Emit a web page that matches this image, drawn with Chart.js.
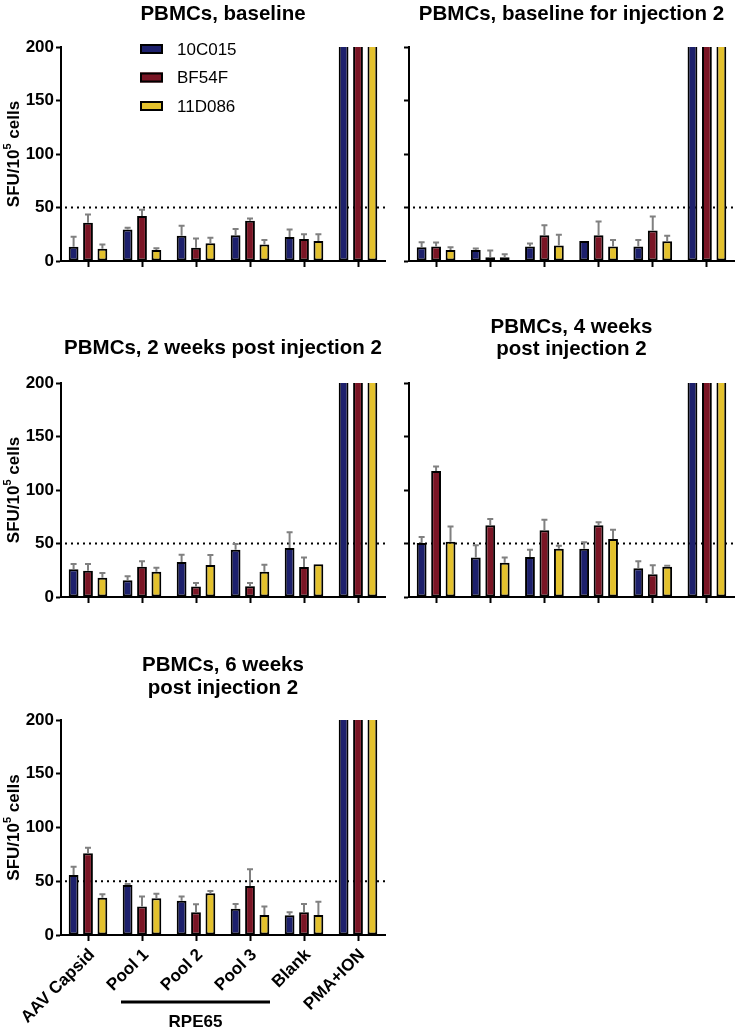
<!DOCTYPE html>
<html>
<head>
<meta charset="utf-8">
<script src="https://cdn.jsdelivr.net/npm/chart.js@4.4.0/dist/chart.umd.min.js"></script>
<style>
  html, body { margin: 0; padding: 0; background: #fff; }
  body { width: 736px; height: 1031px; position: relative; overflow: hidden; }
  canvas { position: absolute; }
</style>
</head>
<body>
<canvas id="g1" width="392" height="300" style="left:0;top:0"></canvas>
<canvas id="g2" width="344" height="300" style="left:392px;top:0"></canvas>
<canvas id="g3" width="392" height="320" style="left:0;top:300px"></canvas>
<canvas id="g4" width="344" height="320" style="left:392px;top:300px"></canvas>
<canvas id="g5" width="392" height="411" style="left:0;top:620px"></canvas>
<script>
// datos
var categorias = ['AAV Capsid', 'Pool 1', 'Pool 2', 'Pool 3', 'Blank', 'PMA+ION'];
var series = ['10C015', 'BF54F', '11D086'];
var colores = ['#1d206c', '#7a1525', '#e3c12d'];
var ticksY = [0, 50, 100, 150, 200];
var umbral = 50;
var grupo = 'RPE65';

// PBMCs, baseline
var base_10C015 = [13.4, 29.5, 23.6, 24.0, 22.4, 200];
var base_BF54F = [35.8, 42.0, 12.4, 37.6, 20.5, 200];
var base_11D086 = [11.5, 10.3, 16.5, 15.5, 18.7, 200];
var base_err_10C015 = [9.3, 1.5, 9.4, 6.0, 7.1, 0];
var base_err_BF54F = [7.7, 6.0, 8.6, 2.2, 4.4, 0];
var base_err_11D086 = [4.0, 1.5, 5.3, 4.1, 6.2, 0];

// PBMCs, baseline for injection 2
var base2_10C015 = [12.9, 10.3, 13.5, 18.8, 13.5, 200];
var base2_BF54F = [13.5, 3.4, 24.1, 24.1, 28.5, 200];
var base2_11D086 = [10.3, 3.4, 14.4, 13.5, 18.5, 200];
var base2_err_10C015 = [4.7, 1.3, 2.8, 0, 6.2, 0];
var base2_err_BF54F = [3.7, 6.3, 9.4, 12.9, 13.2, 0];
var base2_err_11D086 = [2.6, 2.9, 10.1, 6.2, 5.0, 0];

// PBMCs, 2 weeks post injection 2
var sem2_10C015 = [25.9, 15.6, 32.7, 44.2, 45.8, 200];
var sem2_BF54F = [24.6, 28.3, 9.7, 10.0, 28.0, 200];
var sem2_11D086 = [18.1, 23.7, 29.9, 23.7, 30.5, 200];
var sem2_err_10C015 = [4.9, 3.7, 6.9, 5.3, 14.6, 0];
var sem2_err_BF54F = [6.2, 5.0, 3.4, 3.1, 9.0, 0];
var sem2_err_11D086 = [4.3, 3.7, 9.4, 6.5, 0, 0];

// PBMCs, 4 weeks post injection 2
var sem4_10C015 = [50.5, 36.8, 37.4, 45.2, 26.8, 200];
var sem4_BF54F = [117.8, 67.0, 62.3, 67.0, 21.2, 200];
var sem4_11D086 = [51.7, 32.1, 45.2, 54.2, 28.3, 200];
var sem4_err_10C015 = [5.5, 11.5, 6.8, 5.9, 6.5, 0];
var sem4_err_BF54F = [4.2, 5.9, 10.0, 2.8, 8.4, 0];
var sem4_err_11D086 = [14.3, 4.7, 2.8, 8.7, 1.0, 0];

// PBMCs, 6 weeks post injection 2
var sem6_10C015 = [55.8, 46.5, 31.9, 24.5, 18.3, 200];
var sem6_BF54F = [76.0, 26.4, 21.1, 45.6, 21.1, 200];
var sem6_11D086 = [34.7, 34.1, 38.8, 18.6, 18.6, 200];
var sem6_err_10C015 = [7.8, 0.9, 3.8, 4.3, 2.8, 0];
var sem6_err_BF54F = [5.2, 9.3, 7.4, 15.5, 7.7, 0];
var sem6_err_11D086 = [3.1, 4.3, 2.1, 7.8, 12.4, 0];

var fuente = '"Liberation Sans", Arial, sans-serif';
Chart.defaults.font.family = fuente;
Chart.defaults.color = '#000';

function crear_panel(id, cfg) {
    var ctx = document.getElementById(id);
    var valores = [cfg.v1, cfg.v2, cfg.v3];
    var errores = [cfg.e1, cfg.e2, cfg.e3];

    var datasets = series.map(function (s, i) {
        return {
            label: s,
            data: valores[i],
            errores: errores[i],
            backgroundColor: colores[i],
            borderColor: '#000',
            borderSkipped: false,
            borderWidth: function (c) {
                return c.raw >= 200 ? {left: 2, right: 2, top: 0, bottom: 2} : 2;
            }
        };
    });

    var lineaUmbral = {
        id: 'lineaUmbral',
        beforeDatasetsDraw: function (chart) {
            var a = chart.chartArea, y = chart.scales.y.getPixelForValue(umbral);
            var c = chart.ctx;
            c.save();
            c.strokeStyle = '#000';
            c.lineWidth = 2;
            c.setLineDash([2, 4]);
            c.beginPath();
            c.moveTo(a.left + 4, y);
            c.lineTo(a.right, y);
            c.stroke();
            c.restore();
        }
    };

    var barrasError = {
        id: 'barrasError',
        afterDatasetsDraw: function (chart) {
            var c = chart.ctx, ys = chart.scales.y;
            c.save();
            c.strokeStyle = '#808080';
            c.lineWidth = 2;
            chart.data.datasets.forEach(function (ds, i) {
                var meta = chart.getDatasetMeta(i);
                meta.data.forEach(function (bar, j) {
                    var sd = ds.errores[j];
                    if (!sd) return;
                    var yTop = ys.getPixelForValue(ds.data[j] + sd);
                    c.beginPath();
                    c.moveTo(bar.x, bar.y);
                    c.lineTo(bar.x, yTop);
                    c.moveTo(bar.x - 3, yTop);
                    c.lineTo(bar.x + 3, yTop);
                    c.stroke();
                });
            });
            c.restore();
        }
    };

    var textos = {
        id: 'textos',
        afterDraw: function (chart) {
            var c = chart.ctx, a = chart.chartArea;
            var cx = (a.left + a.right) / 2;
            c.save();
            c.fillStyle = '#000';
            c.textAlign = 'center';
            c.textBaseline = 'middle';
            c.font = 'bold 20.5px ' + fuente;
            cfg.titulo.forEach(function (t, k) {
                c.fillText(t, cx, cfg.tituloY[k]);
            });

            if (cfg.ejeY) {
                c.save();
                c.translate(14, (a.top + a.bottom) / 2);
                c.rotate(-Math.PI / 2);
                c.textAlign = 'left';
                var p1 = 'SFU/10', p2 = '5', p3 = ' cells';
                c.font = 'bold 17px ' + fuente;
                var w1 = c.measureText(p1).width, w3 = c.measureText(p3).width;
                c.font = 'bold 11px ' + fuente;
                var w2 = c.measureText(p2).width;
                var x0 = -(w1 + w2 + w3) / 2;
                c.font = 'bold 17px ' + fuente;
                c.fillText(p1, x0, 0);
                c.fillText(p3, x0 + w1 + w2, 0);
                c.font = 'bold 11px ' + fuente;
                c.fillText(p2, x0 + w1, -6);
                c.restore();
            }

            if (cfg.leyenda) {
                c.textAlign = 'left';
                c.font = '17px ' + fuente;
                chart.data.datasets.forEach(function (ds, i) {
                    var y = 49 + i * 28.5;
                    c.fillStyle = ds.backgroundColor;
                    c.fillRect(140, y - 5, 23, 10);
                    c.strokeStyle = '#000';
                    c.lineWidth = 2;
                    c.strokeRect(141, y - 4, 21, 8);
                    c.fillStyle = '#000';
                    c.fillText(ds.label, 177, y + 1);
                });
            }

            if (cfg.grupo) {
                var xs = chart.scales.x;
                var x1 = xs.getPixelForValue(1) - 21, x2 = xs.getPixelForValue(3) + 20;
                c.strokeStyle = '#000';
                c.lineWidth = 3;
                c.beginPath();
                c.moveTo(x1, cfg.grupo.lineaY);
                c.lineTo(x2, cfg.grupo.lineaY);
                c.stroke();
                c.textAlign = 'center';
                c.font = 'bold 17px ' + fuente;
                c.fillText(grupo, (x1 + x2) / 2, cfg.grupo.textoY);
            }
            c.restore();
        }
    };

    return new Chart(ctx, {
        type: 'bar',
        data: {
            labels: categorias,
            datasets: datasets
        },
        options: {
            responsive: false,
            animation: false,
            events: [],
            layout: {padding: cfg.padding},
            datasets: {bar: {categoryPercentage: 0.8, barPercentage: 0.68}},
            plugins: {
                legend: {display: false},
                title: {display: false},
                tooltip: {enabled: false}
            },
            scales: {
                x: {
                    offset: true,
                    grid: {display: true, drawOnChartArea: false, offset: false, tickLength: 6,
                        tickWidth: 2, tickColor: '#000', color: '#000'},
                    border: {display: true, color: '#000', width: 2},
                    ticks: {display: cfg.etiquetasX, autoSkip: false, minRotation: 45, maxRotation: 45,
                        color: '#000', padding: 4, labelOffset: 4, font: {size: 17, weight: 'bold'}},
                    afterFit: function (s) { s.height = cfg.altoX; }
                },
                y: {
                    min: 0,
                    max: 200,
                    afterBuildTicks: function (s) {
                        s.ticks = ticksY.map(function (v) { return {value: v}; });
                    },
                    grid: {display: true, drawOnChartArea: false, tickLength: 5,
                        tickWidth: 2, tickColor: '#000', color: '#000'},
                    border: {display: true, color: '#000', width: 2},
                    ticks: {display: cfg.etiquetasY, color: '#000', padding: 2,
                        font: {size: 17, weight: 'bold'}},
                    afterFit: function (s) { s.width = cfg.anchoY; }
                }
            }
        },
        plugins: [lineaUmbral, barrasError, textos]
    });
}

crear_panel('g1', {
    titulo: ['PBMCs, baseline'], tituloY: [14],
    v1: base_10C015, v2: base_BF54F, v3: base_11D086,
    e1: base_err_10C015, e2: base_err_BF54F, e3: base_err_11D086,
    padding: {left: 0, top: 47, right: 7, bottom: 29},
    anchoY: 61, altoX: 10, etiquetasY: true, etiquetasX: false, ejeY: true, leyenda: true
});

crear_panel('g2', {
    titulo: ['PBMCs, baseline for injection 2'], tituloY: [14],
    v1: base2_10C015, v2: base2_BF54F, v3: base2_11D086,
    e1: base2_err_10C015, e2: base2_err_BF54F, e3: base2_err_11D086,
    padding: {left: 0, top: 47, right: 2, bottom: 29},
    anchoY: 17, altoX: 10, etiquetasY: false, etiquetasX: false
});

crear_panel('g3', {
    titulo: ['PBMCs, 2 weeks post injection 2'], tituloY: [48],
    v1: sem2_10C015, v2: sem2_BF54F, v3: sem2_11D086,
    e1: sem2_err_10C015, e2: sem2_err_BF54F, e3: sem2_err_11D086,
    padding: {left: 0, top: 83, right: 7, bottom: 13},
    anchoY: 61, altoX: 10, etiquetasY: true, etiquetasX: false, ejeY: true
});

crear_panel('g4', {
    titulo: ['PBMCs, 4 weeks', 'post injection 2'], tituloY: [27, 49],
    v1: sem4_10C015, v2: sem4_BF54F, v3: sem4_11D086,
    e1: sem4_err_10C015, e2: sem4_err_BF54F, e3: sem4_err_11D086,
    padding: {left: 0, top: 83, right: 2, bottom: 13},
    anchoY: 17, altoX: 10, etiquetasY: false, etiquetasX: false
});

crear_panel('g5', {
    titulo: ['PBMCs, 6 weeks', 'post injection 2'], tituloY: [45, 68],
    v1: sem6_10C015, v2: sem6_BF54F, v3: sem6_11D086,
    e1: sem6_err_10C015, e2: sem6_err_BF54F, e3: sem6_err_11D086,
    padding: {left: 0, top: 100, right: 7, bottom: 0},
    anchoY: 61, altoX: 96, etiquetasY: true, etiquetasX: true, ejeY: true,
    grupo: {lineaY: 382, textoY: 402}
});
</script>
</body>
</html>
